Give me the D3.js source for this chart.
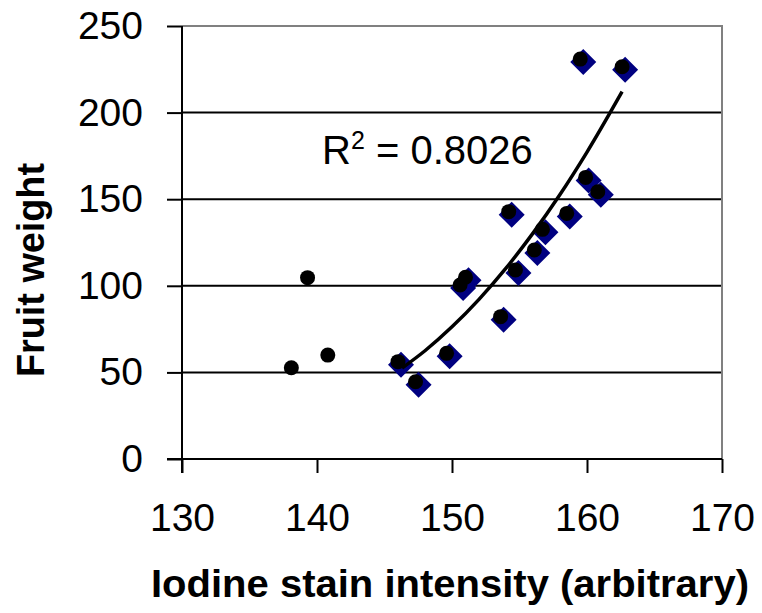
<!DOCTYPE html>
<html>
<head>
<meta charset="utf-8">
<script src="https://cdn.jsdelivr.net/npm/d3@7"></script>
<style>
  body { margin: 0; background: #fff; }
  svg { display: block; font-family: "Liberation Sans", Arial, sans-serif; }
</style>
</head>
<body>
<div id="chart"></div>
<script>
// points left out of the fit (black dots only)
const outlierX = [138.1, 139.3, 140.8];
const outlierY = [52.7, 104.7, 60.0];

// points used for the trendline (diamond + dot)
const fitX = [146.0, 147.3, 149.6, 150.6, 151.0, 153.6, 154.2, 154.7, 156.1, 156.7, 158.5, 159.5, 159.9, 160.8, 162.6];
const fitY = [56.2, 44.6, 61.0, 100.5, 104.9, 82.2, 142.8, 109.1, 120.7, 132.6, 141.8, 230.9, 162.6, 154.3, 226.5];

// trendline
const trendX = [146.3, 148.0, 150.0, 152.0, 154.0, 156.0, 158.0, 160.0, 162.6];
const trendY = [52.5, 62.5, 76.3, 92.2, 110.2, 130.4, 152.7, 177.2, 212.1];

const xTicks = [130, 140, 150, 160, 170];
const yTicks = [0, 50, 100, 150, 200, 250];
const r2Label = "0.8026";

const W = 762, H = 613;
const plot = { left: 182, right: 722, top: 26, bottom: 459 };

const svg = d3.select("#chart").append("svg")
    .attr("width", W)
    .attr("height", H);

svg.append("rect").attr("width", W).attr("height", H).attr("fill", "#fff");

const x = d3.scaleLinear().domain([130, 170]).range([plot.left, plot.right]);
const y = d3.scaleLinear().domain([0, 250]).range([plot.bottom, plot.top]);

// gridlines
svg.append("g")
    .selectAll("line")
    .data(yTicks.filter(d => d > 0 && d < 250))
    .join("line")
    .attr("x1", plot.left).attr("x2", plot.right)
    .attr("y1", d => y(d)).attr("y2", d => y(d))
    .attr("stroke", "#000")
    .attr("stroke-width", 2);

// plot frame (top & right in grey)
svg.append("path")
    .attr("d", `M${plot.left},${plot.top}H${plot.right}V${plot.bottom}`)
    .attr("fill", "none")
    .attr("stroke", "#808080")
    .attr("stroke-width", 2);

// Axes
const yAxis = svg.append("g")
    .attr("transform", `translate(${plot.left},0)`)
    .call(d3.axisLeft(y).tickValues(yTicks).tickSize(15).tickPadding(24).tickSizeOuter(0));
yAxis.select(".domain").remove();
yAxis.append("line")
    .attr("x1", 0).attr("x2", 0)
    .attr("y1", plot.top).attr("y2", plot.bottom + 14)
    .attr("stroke", "#000").attr("stroke-width", 2);

const xAxis = svg.append("g")
    .attr("transform", `translate(0,${plot.bottom})`)
    .call(d3.axisBottom(x).tickValues(xTicks).tickSize(14).tickPadding(30).tickSizeOuter(0));
xAxis.select(".domain").remove();
xAxis.append("line")
    .attr("x1", plot.left - 15).attr("x2", plot.right)
    .attr("y1", 0).attr("y2", 0)
    .attr("stroke", "#000").attr("stroke-width", 2);

svg.selectAll(".tick line").attr("stroke", "#000").attr("stroke-width", 2);
svg.selectAll(".tick text")
    .style("font-family", "'Liberation Sans', Arial, sans-serif")
    .style("font-size", "39px")
    .attr("fill", "#000");

// Markers
const fitData = fitX.map((v, i) => ({ x: v, y: fitY[i] }));
const outData = outlierX.map((v, i) => ({ x: v, y: outlierY[i] }));

svg.append("g")
    .selectAll("path")
    .data(fitData)
    .join("path")
    .attr("transform", d => `translate(${x(d.x) + 3},${y(d.y) + 3})`)
    .attr("d", "M0,-13L13,0L0,13L-13,0Z")
    .attr("fill", "#000080");

const line = d3.line()
    .x(d => x(d.x))
    .y(d => y(d.y))
    .curve(d3.curveMonotoneX);

svg.append("path")
    .datum(trendX.map((v, i) => ({ x: v, y: trendY[i] })))
    .attr("fill", "none")
    .attr("stroke", "#000")
    .attr("stroke-width", 3.5)
    .attr("d", line);

svg.append("g")
    .selectAll("circle")
    .data(outData.concat(fitData))
    .join("circle")
    .attr("cx", d => x(d.x))
    .attr("cy", d => y(d.y))
    .attr("r", 7.5)
    .attr("fill", "#000");

// R² label
const r2 = svg.append("text")
    .attr("x", 322)
    .attr("y", 164)
    .style("font-size", "40px")
    .attr("fill", "#000");
r2.append("tspan").text("R");
r2.append("tspan").attr("dy", -15).style("font-size", "25px").text("2");
r2.append("tspan").attr("dy", 15).text(" = " + r2Label);

// Axis titles
svg.append("text")
    .attr("x", 450)
    .attr("y", 597)
    .attr("text-anchor", "middle")
    .attr("textLength", 598)
    .attr("lengthAdjust", "spacingAndGlyphs")
    .style("font-size", "38px")
    .style("font-weight", "bold")
    .text("Iodine stain intensity (arbitrary)");

svg.append("text")
    .attr("transform", "translate(44,270) rotate(-90)")
    .attr("text-anchor", "middle")
    .attr("textLength", 214)
    .attr("lengthAdjust", "spacingAndGlyphs")
    .style("font-size", "38px")
    .style("font-weight", "bold")
    .text("Fruit weight");
</script>
</body>
</html>
